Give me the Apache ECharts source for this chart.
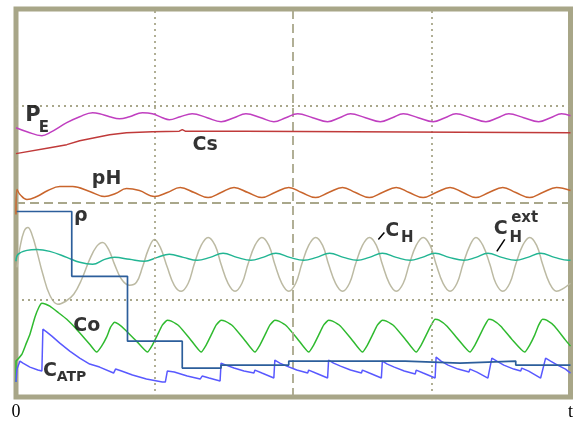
<!DOCTYPE html>
<html lang="en">
<head>
  <meta charset="UTF-8">
  <title>Oscillations</title>
  <style>
    html, body { width: 100%; height: 100%; margin: 0; background: #fff; }
  </style>
</head>
<body>
  <div id="chart" style="width:576px;height:421px"></div>
  <script src="https://cdn.jsdelivr.net/npm/echarts@6/dist/echarts.min.js"></script>
  <script>
    var myChart = echarts.init(document.getElementById('chart'));

    // time axis 0..557, value axis 0..389 (arbitrary units)
    var tMax = 557, vMax = 389;
    var xGrid = [139.25, 278.5, 417.75];   // quarter lines, middle one dashed
    var yGrid = [97.25, 194.5, 291.75];

    var pE = [[0,270],[11,266],[26,262],[34,265],[51,275],[64,281],[77,285],[84,284],[94,281],[104,279],[114,281],[127,285],[137,284],[147,280],[154,278],[165,281],[177,284],[192,280],[206,276],[219,280],[231,284],[246,280],[259,276],[271,280],[283,284],[298,280],[313,276],[325,280],[336,284],[351,280],[366,276],[378,280],[389,284],[404,280],[419,276],[431,280],[442,284],[457,280],[472,276],[484,280],[495,284],[510,280],[525,276],[537,280],[548,284],[557,282]];

    var cS = [[0,244],[34,250],[51,253],[64,257],[84,261],[94,263],[111,265],[137,266],[164,266.5],[167,268],[170,266.5],[230,266.5],[232,265],[557,265]];

    var pH = [[0,183],[1,208],[4,203],[11,198],[21,201],[32,207],[44,211],[57,211],[74,206],[89,201],[100,204],[111,209],[124,207],[139,201],[152,205],[165,210],[179,205],[193,200],[206,205],[219,210],[233,205],[247,200],[260,205],[274,210],[287,205],[301,200],[314,205],[328,210],[341,205],[355,200],[368,205],[382,210],[395,205],[409,200],[422,205],[436,210],[449,205],[462,200],[475,205],[489,210],[502,205],[516,200],[529,205],[543,210],[557,207]];

    var rho = [[0,186],[56,121],[112,56],[167,29],[206,32],[274,36],[391,34],[446,36],[502,32],[557,32]];

    var cH = [[0,136],[2,143],[11,147],[21,148],[34,146],[51,140],[64,135],[77,133],[89,138],[99,140],[114,138],[129,136],[142,140],[154,143],[168,140],[182,137],[195,140],[208,144],[222,140],[236,137],[248,140],[261,144],[275,140],[289,137],[302,140],[315,144],[329,140],[343,137],[355,140],[368,144],[382,140],[396,137],[408,140],[421,144],[435,140],[450,137],[462,140],[474,144],[488,140],[502,137],[514,140],[527,144],[541,140],[555,137],[557,137]];

    var cHext = [[1,130],[4,150],[8,166],[12,170],[16,163],[21,146],[27,123],[34,102],[42,93],[50,96],[58,103],[66,118],[74,138],[81,151],[87,155],[93,148],[99,133],[106,118],[114,112],[121,115],[127,130],[133,148],[139,158],[145,150],[152,130],[159,112],[166,106],[173,114],[179,133],[186,152],[193,160],[200,152],[206,133],[213,114],[220,106],[227,114],[233,133],[240,152],[247,160],[254,152],[260,133],[267,114],[274,106],[281,114],[287,133],[294,152],[301,160],[308,152],[314,133],[321,114],[328,106],[335,114],[341,133],[348,152],[355,160],[362,152],[368,133],[375,114],[382,106],[389,114],[395,133],[402,152],[409,160],[416,152],[422,133],[429,114],[436,106],[443,114],[449,133],[456,152],[462,160],[469,152],[476,133],[482,114],[489,106],[496,114],[502,133],[509,152],[516,160],[523,152],[529,133],[536,114],[543,106],[550,109],[557,114]];

    var cO = [[0,15],[0,36],[2,38],[6,43],[10,53],[14,63],[19,80],[23,90],[26,94],[30,93],[34,91],[42,85],[51,78],[59,70],[67,61],[74,53],[81,45],[86,51],[91,60],[95,70],[99,75],[103,73],[109,68],[121,56],[132,45],[137,52],[142,62],[147,72],[152,77],[156,76],[164,71],[175,58],[186,45],[191,52],[196,62],[201,72],[206,77],[210,76],[218,71],[229,58],[240,45],[245,52],[250,62],[255,72],[260,77],[264,76],[272,71],[283,58],[294,45],[299,52],[304,62],[309,72],[314,77],[318,76],[326,71],[337,58],[348,45],[353,52],[358,62],[363,72],[368,77],[372,76],[380,71],[391,58],[402,45],[407,52],[412,62],[417,72],[421,78],[425,77],[433,71],[444,58],[456,45],[461,52],[466,62],[471,72],[475,78],[479,77],[487,71],[498,58],[511,45],[516,52],[521,62],[525,72],[529,78],[533,77],[541,71],[552,57],[557,51]];

    var cATP = [[0,15],[1,28],[4,36],[7,34],[14,30],[22,27],[26,26],[27,68],[31,65],[36,61],[44,54],[54,46],[64,39],[74,33],[84,30],[98,24],[99,23],[100,28],[106,26],[117,22],[131,18],[147,15],[150,15],[152,26],[159,25],[172,21],[185,18],[187,21],[194,19],[205,16],[206,34],[211,32],[219,29],[229,26],[239,24],[240,27],[247,24],[259,19],[260,37],[265,34],[272,31],[282,27],[293,24],[294,27],[301,24],[313,19],[314,37],[319,34],[326,31],[336,27],[347,24],[348,27],[355,24],[367,19],[368,36],[373,33],[380,30],[390,26],[401,23],[402,27],[409,24],[421,19],[422,40],[427,36],[434,32],[444,28],[455,25],[456,28],[463,25],[474,19],[478,39],[483,36],[490,32],[500,28],[507,26],[508,29],[515,26],[527,19],[532,39],[537,36],[544,32],[552,28],[557,24]];

    // text pieces: [text, t, value, fontSize, align]
    var notes = [
      ['P', 17, 282, 21, 'center'], ['E', 28, 270, 15, 'center'],
      ['Cs', 190, 253, 19, 'center'],
      ['pH', 91, 219, 19, 'center'],
      ['ρ', 65, 181, 19, 'center'],
      ['Co', 71, 71, 19, 'center'],
      ['C', 34, 26, 19, 'center'], ['ATP', 41, 20, 14, 'left'],
      ['C', 378, 166, 19, 'center'], ['H', 393, 159, 15, 'center'],
      ['C', 487, 168, 19, 'center'], ['ext', 511, 179, 15, 'center'], ['H', 502, 159, 15, 'center']
    ];
    var leaderH = [[364,158],[370,165]];
    var leaderExt = [[483,146],[491,158]];

    var gridColor = '#a9a78b';
    var gridMarks = [];
    xGrid.forEach(function (v, i) {
      gridMarks.push({ xAxis: v, lineStyle: { type: i === 1 ? [9, 5] : [2, 4] } });
    });
    yGrid.forEach(function (v, i) {
      gridMarks.push({ yAxis: v, lineStyle: { type: i === 1 ? [9, 5] : [2, 4] } });
    });

    function curve(name, data, color, smooth, z) {
      return {
        name: name, type: 'line', data: data, showSymbol: false, smooth: smooth,
        lineStyle: { color: color, width: 1.5 }, z: z, silent: true, animation: false
      };
    }

    var series = [
      {
        type: 'line', data: [], z: 1, silent: true,
        markLine: {
          silent: true, symbol: 'none', animation: false,
          label: { show: false },
          lineStyle: { color: gridColor, width: 1.8 },
          data: gridMarks
        }
      },
      curve('CHext', cHext, '#bcbaa3', 0.4, 2),
      curve('CH', cH, '#22b593', 0.4, 3),
      curve('Co', cO, '#2fba2f', 0.15, 4),
      curve('CATP', cATP, '#5959ff', false, 5),
      {
        name: 'rho', type: 'line', data: rho, step: 'end', showSymbol: false,
        lineStyle: { color: '#2c5e9b', width: 1.7 }, z: 6, silent: true, animation: false
      },
      curve('pH', pH, '#c9652c', 0.4, 7),
      curve('Cs', cS, '#c03a3a', false, 8),
      curve('PE', pE, '#c03fc0', 0.4, 9),
      curve('leaderH', leaderH, '#000', false, 10),
      curve('leaderExt', leaderExt, '#000', false, 10),
      {
        type: 'scatter', symbolSize: 0, z: 11, silent: true, animation: false,
        data: notes.map(function (n) {
          return {
            name: n[0], value: [n[1], n[2]],
            label: { fontSize: n[3], align: n[4] }
          };
        }),
        label: {
          show: true, position: 'inside', formatter: '{b}', verticalAlign: 'middle',
          color: '#000', fontFamily: 'DejaVu Sans', fontWeight: 'bold'
        }
      }
    ];

    var option = {
      backgroundColor: '#fff',
      animation: false,
      grid: {
        left: 16, right: 3, top: 9, bottom: 23,
        show: true, borderColor: '#a8a688', borderWidth: 5, backgroundColor: '#fff'
      },
      xAxis: {
        type: 'value', min: 0, max: tMax, interval: tMax / 4,
        axisLine: { show: false }, axisTick: { show: false }, splitLine: { show: false },
        axisLabel: {
          showMinLabel: true, showMaxLabel: true, margin: 6,
          fontFamily: 'Liberation Serif', fontSize: 18, color: '#000',
          formatter: function (v) { return v === 0 ? '0' : (v === tMax ? 't' : ''); }
        }
      },
      yAxis: {
        type: 'value', min: 0, max: vMax,
        axisLine: { show: false }, axisTick: { show: false },
        splitLine: { show: false }, axisLabel: { show: false }
      },
      series: series
    };

    myChart.setOption(option);
  </script>
</body>
</html>
